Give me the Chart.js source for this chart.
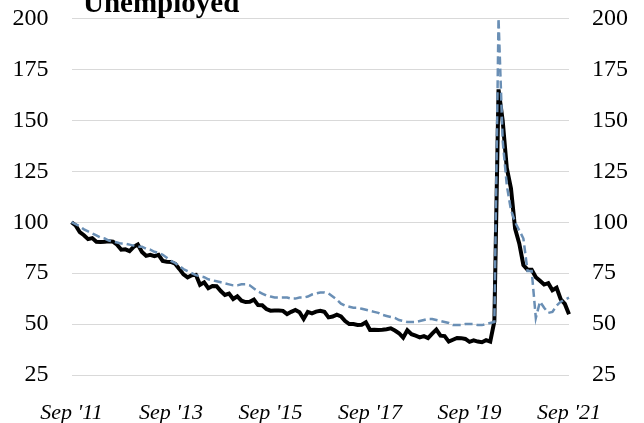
<!DOCTYPE html>
<html>
<head>
<meta charset="utf-8">
<script src="https://cdn.jsdelivr.net/npm/chart.js@4"></script>
<style>
  html, body { margin: 0; padding: 0; background: #fff; }
  #wrap { width: 644px; height: 423px; position: relative; }
</style>
</head>
<body>
<div id="wrap"><canvas id="chart" width="644" height="423"></canvas></div>
<script>
// Meses (Sep 2011 -> Sep 2021)
const monthNames = ['Jan', 'Feb', 'Mar', 'Apr', 'May', 'Jun', 'Jul', 'Aug', 'Sep', 'Oct', 'Nov', 'Dec'];
const startYear = 2011;
const startMonth = 8; // Sep
const tickLabels = ["Sep '11", "Sep '13", "Sep '15", "Sep '17", "Sep '19", "Sep '21"];
const yTicks = [25, 50, 75, 100, 125, 150, 175, 200];

// Desempregados (índice, Sep 2011 = 100)
const unemployed = [
    100, 98.4, 95.1, 93.6,
    91.7, 92.2, 90.4, 90.3, 90.4, 90.7, 90.5, 89.0, 86.5, 86.7, 85.8, 87.9,
    89.1, 85.4, 83.5, 84.0, 83.3, 84.0, 81.0, 80.6, 80.5, 79.6, 77.1, 74.4,
    72.9, 74.0, 74.2, 69.3, 70.5, 67.6, 68.7, 68.6, 66.2, 64.3, 65.0, 62.3,
    63.6, 61.5, 60.8, 60.9, 62.0, 59.3, 59.2, 57.4, 56.6, 56.7, 56.7, 56.5,
    54.9, 56.0, 56.9, 55.8, 52.5, 56.0, 55.3, 56.1, 56.5, 56.0, 53.3, 53.7,
    54.6, 53.8, 51.5, 50.0, 50.0, 49.6, 49.7, 50.9, 47.1, 47.2, 47.1, 47.2,
    47.5, 47.9, 46.8, 45.5, 43.3, 47.0, 45.0, 44.3, 43.5, 44.1, 43.1, 45.3,
    47.3, 44.3, 44.1, 41.4, 42.3, 43.2, 43.1, 42.7, 41.3, 42.0, 41.4, 41.1,
    42.1, 41.4, 51.4, 165.2, 149.9, 126.5, 116.6, 96.8, 89.6, 79.0, 76.7, 76.7,
    73.0, 71.3, 69.4, 70.1, 66.6, 67.8, 62.2, 59.9, 54.8
];

// Série tracejada
const dashedSeries = [
    100, 99, 98, 96.5,
    95.5, 94.5, 93.5, 92.5, 92, 91, 90.5, 90, 89.5, 89.5, 89, 88.5,
    88, 88, 87, 86.5, 85.5, 85, 84, 82.5, 81, 80, 78.5, 77,
    76, 75, 74, 73.5, 73, 72, 71.5, 71, 70.5, 70, 69.5, 69,
    69, 69.5, 69.5, 69, 67.5, 66, 65, 64, 63.5, 63, 63, 63,
    63, 62.5, 62.5, 63, 63, 63.5, 64.5, 65, 65.5, 65.5, 65, 63.5,
    62, 60, 59, 58.5, 58, 58, 57.5, 57, 56.5, 56, 55.5, 54.5,
    54, 53.5, 53, 52, 51.5, 51, 51, 51, 51.5, 52, 52.5, 52.5,
    52, 51.5, 51, 50.5, 49.5, 49.5, 49.5, 50, 50, 50, 49.5, 49.5,
    50, 50.5, 51, 200, 140, 118, 106, 100, 96, 92, 76, 76,
    53, 61, 58, 55.5, 56, 59, 61, 62, 63
];

const labels = unemployed.map((_, i) => {
    const m = (startMonth + i) % 12;
    const y = startYear + Math.floor((startMonth + i) / 12);
    return monthNames[m] + " '" + String(y).slice(2);
});

const serif = '"Liberation Serif", "DejaVu Serif", serif';

const titlePlugin = {
    id: 'titulo',
    afterDraw(chart) {
        const ctx = chart.ctx;
        ctx.save();
        ctx.font = 'bold 29px ' + serif;
        ctx.fillStyle = '#000';
        ctx.textBaseline = 'alphabetic';
        ctx.fillText('Unemployed', 83, 12);
        ctx.restore();
    }
};

// largura fixa dos eixos y, sem padding extra em cima/embaixo
const fixY = (w) => (scale) => {
    scale.width = w;
    scale.paddingTop = 0;
    scale.paddingBottom = 0;
};

const yCommon = {
    min: 25,
    max: 200,
    afterBuildTicks: (scale) => { scale.ticks = yTicks.map(v => ({ value: v })); },
    ticks: {
        color: '#000',
        font: { family: serif, size: 24 },
        padding: 23
    },
    border: { display: false }
};

new Chart(document.getElementById('chart').getContext('2d'), {
    type: 'line',
    data: {
        labels: labels,
        datasets: [
            {
                label: 'Dashed',
                data: dashedSeries,
                borderColor: '#6A8FB5',
                borderWidth: 2.5,
                borderDash: [8, 4],
                pointRadius: 0,
                tension: 0,
                fill: false,
                order: 0
            },
            {
                label: 'Unemployed',
                data: unemployed,
                borderColor: '#000000',
                borderWidth: 4,
                pointRadius: 0,
                tension: 0,
                fill: false,
                order: 1
            }
        ]
    },
    options: {
        responsive: false,
        animation: false,
        devicePixelRatio: 1,
        layout: { padding: { top: 18.5, left: 0, right: 0, bottom: 0 } },
        plugins: {
            legend: { display: false },
            tooltip: { enabled: false }
        },
        elements: { line: { borderJoinStyle: 'miter', borderCapStyle: 'butt' } },
        scales: {
            x: {
                type: 'category',
                offset: false,
                grid: { display: false },
                border: { display: false },
                afterFit: (scale) => { scale.height = 48; },
                ticks: {
                    autoSkip: false,
                    maxRotation: 0,
                    minRotation: 0,
                    padding: 17,
                    color: '#000',
                    font: { family: serif, size: 22, style: 'italic' },
                    callback: function (val, idx) {
                        const l = this.getLabelForValue(val);
                        return tickLabels.includes(l) ? l : '';
                    }
                }
            },
            y: Object.assign({}, yCommon, {
                position: 'left',
                afterFit: fixY(71.5),
                grid: { color: '#d9d9d9', lineWidth: 1, drawTicks: false }
            }),
            y2: Object.assign({}, yCommon, {
                position: 'right',
                afterFit: fixY(75),
                grid: { display: false, drawTicks: false }
            })
        }
    },
    plugins: [titlePlugin]
});
</script>
</body>
</html>
